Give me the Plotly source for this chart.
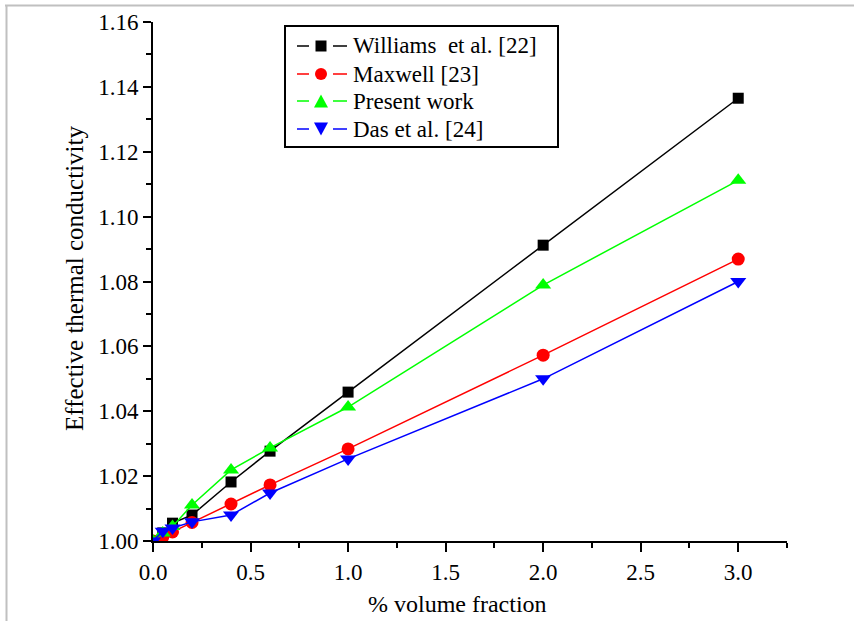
import plotly.graph_objects as go

x_vals = [0.0, 0.05, 0.1, 0.2, 0.4, 0.6, 1.0, 2.0, 3.0]
williams = [1.000, 1.0025, 1.0055, 1.008, 1.0182, 1.0277, 1.0459, 1.0912, 1.1365]
maxwell = [1.000, 1.0012, 1.0028, 1.0057, 1.0114, 1.0173, 1.0284, 1.0573, 1.0869]
present = [1.000, 1.0025, 1.0045, 1.0111, 1.0219, 1.0287, 1.0413, 1.0789, 1.1112]
das = [1.000, 1.003, 1.004, 1.0059, 1.008, 1.0148, 1.0253, 1.050, 1.080]

names = ["Williams\u00a0 et al. [22]", "Maxwell [23]", "Present work", "Das et al. [24]"]
colors = ["#000000", "#ff0000", "#00ff00", "#0000ff"]
symbols = ["square", "circle", "triangle-up", "triangle-down"]
sizes = [11, 13, 14, 14]
series = [williams, maxwell, present, das]

x_ticks = [0, 0.5, 1.0, 1.5, 2.0, 2.5, 3.0]
x_ticklabels = ["0.0", "0.5", "1.0", "1.5", "2.0", "2.5", "3.0"]
y_ticks = [1.00, 1.02, 1.04, 1.06, 1.08, 1.10, 1.12, 1.14, 1.16]
y_ticklabels = ["1.00", "1.02", "1.04", "1.06", "1.08", "1.10", "1.12", "1.14", "1.16"]
x_title = "% volume fraction"
y_title = "Effective thermal conductivity"

FONT = "Liberation Serif"
FS = 23

fig = go.Figure()
for name, ys, c, s, sz in zip(names, series, colors, symbols, sizes):
    fig.add_trace(go.Scatter(
        x=x_vals, y=ys, name=name, mode="lines+markers",
        line=dict(color=c, width=1.5),
        marker=dict(symbol=s, size=sz, color=c, line=dict(width=0)),
        showlegend=False,
    ))

# plot area geometry (page pixels): x 153..787, y 22..541
L, R, T, B = 153, 67, 22, 80
W, H = 854, 621
pw, ph = W - L - R, H - T - B

def px_x(p):
    return (p - L) / pw

def px_y(p):
    return (H - B - p) / ph

shapes = [
    dict(type="line", xref="paper", yref="paper",
         x0=px_x(5), x1=px_x(854), y0=px_y(5.5), y1=px_y(5.5),
         line=dict(color="#c0c0c0", width=2)),
    dict(type="line", xref="paper", yref="paper",
         x0=px_x(6.5), x1=px_x(6.5), y0=px_y(5), y1=px_y(621),
         line=dict(color="#c0c0c0", width=2)),
    # legend box
    dict(type="rect", xref="paper", yref="paper",
         x0=px_x(285), x1=px_x(558), y0=px_y(26), y1=px_y(147),
         line=dict(color="black", width=2), fillcolor="white", layer="above"),
]
annotations = [
    dict(xref="paper", yref="paper", x=px_x(457), y=px_y(604),
         xanchor="center", yanchor="middle", showarrow=False,
         text=x_title, font=dict(family=FONT, size=24, color="black")),
    dict(xref="paper", yref="paper", x=px_x(74), y=px_y(279), textangle=-90,
         xanchor="center", yanchor="middle", showarrow=False,
         text=y_title, font=dict(family=FONT, size=25, color="black")),
]

row_y = [46, 74, 101, 129]
mx = 321
for name, c, s, ry in zip(names, colors, symbols, row_y):
    for a, b in ((297, 309), (333, 347)):
        shapes.append(dict(type="line", xref="paper", yref="paper",
                           x0=px_x(a), x1=px_x(b), y0=px_y(ry), y1=px_y(ry),
                           line=dict(color=c, width=1.5), layer="above"))
    if s == "square":
        h = 5.5
        shapes.append(dict(type="rect", xref="paper", yref="paper",
                           x0=px_x(mx - h), x1=px_x(mx + h), y0=px_y(ry - h), y1=px_y(ry + h),
                           line=dict(width=0), fillcolor=c, layer="above"))
    elif s == "circle":
        h = 6
        shapes.append(dict(type="circle", xref="paper", yref="paper",
                           x0=px_x(mx - h), x1=px_x(mx + h), y0=px_y(ry - h), y1=px_y(ry + h),
                           line=dict(width=0), fillcolor=c, layer="above"))
    else:
        hw, hh = 7, 6.5
        if s == "triangle-up":
            pts = [(mx - hw, ry + hh), (mx + hw, ry + hh), (mx, ry - hh)]
        else:
            pts = [(mx - hw, ry - hh), (mx + hw, ry - hh), (mx, ry + hh)]
        path = "M " + " L ".join(f"{px_x(px):.5f},{px_y(py):.5f}" for px, py in pts) + " Z"
        shapes.append(dict(type="path", xref="paper", yref="paper", path=path,
                           line=dict(width=0), fillcolor=c, layer="above"))
    annotations.append(dict(xref="paper", yref="paper", x=px_x(351), y=px_y(ry),
                            xanchor="left", yanchor="middle", showarrow=False,
                            text=name, font=dict(family=FONT, size=FS, color="black")))

fig.update_layout(
    width=W, height=H,
    margin=dict(l=L, r=R, t=T, b=B, pad=0, autoexpand=False),
    paper_bgcolor="white", plot_bgcolor="white",
    font=dict(family=FONT, size=FS, color="black"),
    showlegend=False,
    shapes=shapes,
    annotations=annotations,
    xaxis=dict(
        range=[0, 3.25], tickmode="array",
        tickvals=x_ticks, ticktext=x_ticklabels,
        ticks="outside", ticklen=9, tickwidth=2, tickcolor="black",
        showline=True, linecolor="black", linewidth=2,
        showgrid=False, zeroline=False, automargin=False,
        minor=dict(dtick=0.25, tick0=0, ticks="outside", ticklen=5, tickwidth=2, tickcolor="black"),
        tickfont=dict(family=FONT, size=FS),
    ),
    yaxis=dict(
        range=[1.0, 1.16], tickmode="array",
        tickvals=y_ticks, ticktext=y_ticklabels,
        ticks="outside", ticklen=8, tickwidth=2, tickcolor="black",
        showline=True, linecolor="black", linewidth=2,
        showgrid=False, zeroline=False, automargin=False,
        minor=dict(dtick=0.01, tick0=1.0, ticks="outside", ticklen=5, tickwidth=2, tickcolor="black"),
        tickfont=dict(family=FONT, size=FS),
    ),
)

fig.write_html("out.html", config={"displayModeBar": False},
               post_script="document.body.style.margin='0';document.body.style.overflow='hidden';")
